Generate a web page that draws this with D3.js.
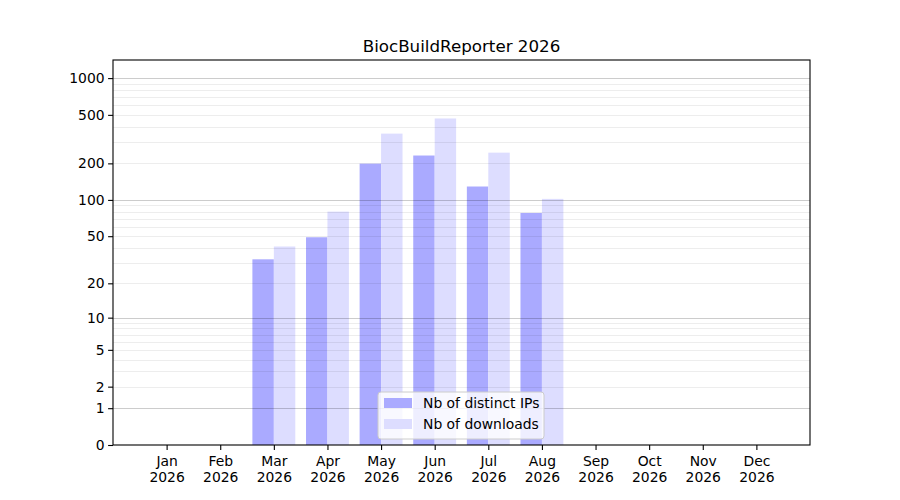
<!DOCTYPE html>
<html>
<head>
<meta charset="utf-8">
<script src="https://cdn.jsdelivr.net/npm/d3@7"></script>
<style>
  body { margin: 0; background: #fff; }
  text { font-family: "DejaVu Sans", sans-serif; fill: #000; }
</style>
</head>
<body>
<div id="chart"></div>
<script>
var months = ['Jan', 'Feb', 'Mar', 'Apr', 'May', 'Jun', 'Jul', 'Aug', 'Sep', 'Oct', 'Nov', 'Dec'];
var year = '2026';
var distinctIPs = [0, 0, 32, 49, 199, 232, 129, 78, 0, 0, 0, 0];
var downloads = [0, 0, 41, 80, 351, 467, 245, 102, 0, 0, 0, 0];
var yTicks = [0, 1, 2, 5, 10, 20, 50, 100, 200, 500, 1000];
var seriesNames = ['Nb of distinct IPs', 'Nb of downloads'];

var width = 900, height = 500;
var plotLeft = 113, plotRight = 810, plotTop = 60, plotBottom = 445;

var svg = d3.select('#chart').append('svg').attr('width', width).attr('height', height);

// months sit at 1..12, axis spans 0..13
var x = d3.scaleLinear().domain([0, 13]).range([plotLeft, plotRight]);
// log(1 + n) so that zero can be drawn
var y = d3.scaleLinear().domain([0, 3.1485]).range([plotBottom, plotTop]);
function yv(v) { return y(Math.log10(1 + v)); }

var barW = (x(1) - x(0)) * 0.4;

svg.append('g').selectAll('rect')
  .data(distinctIPs)
  .enter()
  .append('rect')
  .attr('x', function (d, i) { return x(i + 1) - barW; })
  .attr('y', function (d) { return yv(d); })
  .attr('width', barW)
  .attr('height', function (d) { return plotBottom - yv(d); })
  .attr('fill', '#aaaaff');

svg.append('g').selectAll('rect')
  .data(downloads)
  .enter()
  .append('rect')
  .attr('x', function (d, i) { return x(i + 1); })
  .attr('y', function (d) { return yv(d); })
  .attr('width', barW)
  .attr('height', function (d) { return plotBottom - yv(d); })
  .attr('fill', '#ddddff');

// grid: major at 1,10,100,1000 and minor in between
var minor = [], major = [1, 10, 100, 1000];
[1, 10, 100].forEach(function (b) {
  for (var k = 2; k <= 9; k++) minor.push(b * k);
});
var grid = svg.append('g');
grid.selectAll('.minor')
  .data(minor)
  .enter()
  .append('line')
  .attr('x1', plotLeft).attr('x2', plotRight)
  .attr('y1', function (d) { return Math.round(yv(d)) + 0.5; })
  .attr('y2', function (d) { return Math.round(yv(d)) + 0.5; })
  .attr('stroke', '#000').attr('stroke-opacity', 0.07);
grid.selectAll('.major')
  .data(major)
  .enter()
  .append('line')
  .attr('x1', plotLeft).attr('x2', plotRight)
  .attr('y1', function (d) { return Math.round(yv(d)) + 0.5; })
  .attr('y2', function (d) { return Math.round(yv(d)) + 0.5; })
  .attr('stroke', '#000').attr('stroke-opacity', 0.2);

// y axis
var yAxis = d3.axisLeft(y)
  .tickValues(yTicks.map(function (v) { return Math.log10(1 + v); }))
  .tickFormat(function (d, i) { return yTicks[i]; })
  .tickSize(4.9).tickPadding(3.5);
var gy = svg.append('g').attr('transform', 'translate(' + plotLeft + ',0)').call(yAxis);
gy.select('.domain').remove();
gy.selectAll('text').style('font-size', '13.9px').style('font-family', 'DejaVu Sans');
gy.selectAll('line').attr('stroke-width', 1.1);

// x axis
var xAxis = d3.axisBottom(x)
  .tickValues(d3.range(1, 13))
  .tickFormat('')
  .tickSize(4.9);
var gx = svg.append('g').attr('transform', 'translate(0,' + plotBottom + ')').call(xAxis);
gx.select('.domain').remove();
gx.selectAll('line').attr('stroke-width', 1.1);
gx.selectAll('.tick').each(function (d) {
  var t = d3.select(this).append('text')
    .attr('text-anchor', 'middle')
    .style('font-size', '13.9px');
  t.append('tspan').attr('x', 0).attr('y', 21).text(months[d - 1]);
  t.append('tspan').attr('x', 0).attr('y', 37).text(year);
});

// frame
svg.append('rect')
  .attr('x', plotLeft).attr('y', plotTop)
  .attr('width', plotRight - plotLeft).attr('height', plotBottom - plotTop)
  .attr('fill', 'none').attr('stroke', '#000').attr('stroke-width', 1.1);

// title
svg.append('text')
  .attr('x', (plotLeft + plotRight) / 2).attr('y', 52)
  .attr('text-anchor', 'middle')
  .style('font-size', '16.7px')
  .text('BiocBuildReporter 2026');

// legend
var leg = svg.append('g').attr('transform', 'translate(378,392)');
leg.append('rect')
  .attr('width', 166).attr('height', 47)
  .attr('rx', 3)
  .attr('fill', '#fff').attr('fill-opacity', 0.8)
  .attr('stroke', '#cccccc');
var colors = ['#aaaaff', '#ddddff'];
seriesNames.forEach(function (name, i) {
  leg.append('rect')
    .attr('x', 6).attr('y', 6 + i * 21)
    .attr('width', 28).attr('height', 10)
    .attr('fill', colors[i]);
  leg.append('text')
    .attr('x', 45).attr('y', 16 + i * 21)
    .style('font-size', '13.9px')
    .text(name);
});
</script>
</body>
</html>
